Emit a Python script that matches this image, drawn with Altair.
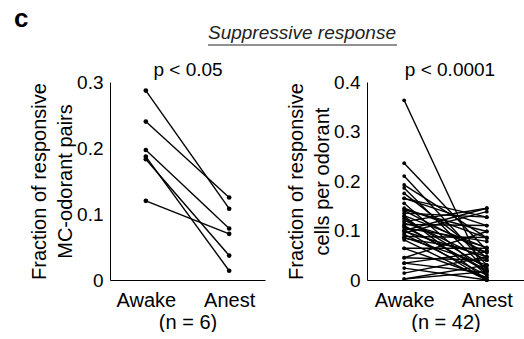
import altair as alt
import pandas as pd

CONDITIONS = ["Awake", "Anest"]

# Left panel: fraction of responsive MC-odorant pairs (n = 6)
left_awake = [0.287, 0.240, 0.197, 0.187, 0.183, 0.120]
left_anest = [0.108, 0.125, 0.078, 0.014, 0.037, 0.070]

# Right panel: fraction of responsive cells per odorant (n = 42)
right_awake = [0.363, 0.236, 0.210, 0.192, 0.186, 0.175, 0.165, 0.165, 0.155,
               0.142, 0.140, 0.135, 0.129, 0.121, 0.118, 0.115, 0.112, 0.108,
               0.105, 0.101, 0.098, 0.095, 0.092, 0.088, 0.086, 0.084, 0.081,
               0.110, 0.125, 0.130, 0.064, 0.064, 0.045, 0.045, 0.034, 0.034,
               0.024, 0.014, 0.002, 0.002, 0.145, 0.100]
right_anest = [0.005, 0.060, 0.030, 0.085, 0.020, 0.045, 0.127, 0.110, 0.010,
               0.098, 0.055, 0.127, 0.000, 0.040, 0.145, 0.066, 0.110, 0.020,
               0.078, 0.000, 0.047, 0.138, 0.010, 0.086, 0.030, 0.057, 0.000,
               0.017, 0.024, 0.065, 0.064, 0.005, 0.040, 0.098, 0.014, 0.057,
               0.000, 0.047, 0.030, 0.017, 0.085, 0.145]

left_yticks = [0, 0.1, 0.2, 0.3]
right_yticks = [0, 0.1, 0.2, 0.3, 0.4]

FONT = "Liberation Sans"


def to_long(aw, an):
    rows = []
    for i, (a, b) in enumerate(zip(aw, an)):
        rows.append({"pair": i, "cond": "Awake", "value": a})
        rows.append({"pair": i, "cond": "Anest", "value": b})
    return pd.DataFrame(rows)


def panel(df, yticks, ytitle, ptext, ntitle, width, xpad, psize, px, extra=()):
    x = alt.X("cond:N", sort=CONDITIONS,
              scale=alt.Scale(type="point", padding=xpad),
              axis=alt.Axis(title=ntitle, labelAngle=0, ticks=False,
                            labelPadding=10, titlePadding=2,
                            labelFontSize=20, titleFontSize=20,
                            titleFontWeight="normal"))
    y = alt.Y("value:Q",
              scale=alt.Scale(domain=[0, yticks[-1]], nice=False),
              axis=alt.Axis(title=ytitle, values=yticks, ticks=False,
                            labelExpr="datum.value == 0 ? '0' : format(datum.value, '.1f')",
                            labelPadding=7, titlePadding=1, titleLineHeight=26,
                            labelFontSize=19, titleFontSize=20,
                            titleFontWeight="normal"))
    base = alt.Chart(df)
    lines = base.mark_line(color="black", strokeWidth=1.4).encode(
        x=x, y=y, detail="pair:N")
    pts = base.mark_point(filled=True, color="black", size=psize, opacity=1).encode(
        x=x, y=y)
    ptxt = alt.Chart(pd.DataFrame({"t": [ptext]})).mark_text(
        font=FONT, fontSize=19, align="center", baseline="alphabetic",
        color="black").encode(x=alt.value(px), y=alt.value(-6), text="t:N")
    return alt.layer(lines, pts, ptxt, *extra).properties(width=width, height=198)


ann = pd.DataFrame({"label": ["c"], "title": ["Suppressive response"]})
letter = alt.Chart(ann).mark_text(
    font=FONT, fontSize=26, fontWeight="bold", align="left",
    baseline="alphabetic", color="black").encode(
    x=alt.value(-96), y=alt.value(-55), text="label:N")
main_title = alt.Chart(ann).mark_text(
    font=FONT, fontSize=19, fontStyle="italic", align="center",
    baseline="alphabetic", color="#222222").encode(
    x=alt.value(192), y=alt.value(-43), text="title:N")
underline = alt.Chart(ann).mark_rule(color="#222222", strokeWidth=1).encode(
    x=alt.value(98), x2=alt.value(287), y=alt.value(-37))

left = panel(to_long(left_awake, left_anest), left_yticks,
             ["Fraction of responsive", "MC-odorant pairs"],
             "p < 0.05", "(n = 6)", 155, 0.43, 22, 78,
             extra=(letter, main_title, underline))
right = panel(to_long(right_awake, right_anest), right_yticks,
              ["Fraction of responsive", "cells per odorant"],
              "p < 0.0001", "(n = 42)", 157, 0.45, 14, 83)

chart = alt.hconcat(left, right, spacing=102).properties(
    bounds="flush",
    background="white",
    padding={"left": 14, "top": 6, "right": 0, "bottom": 0},
).configure_view(stroke=None).configure_axis(
    grid=False, domainColor="black", domainWidth=1,
    labelColor="black", titleColor="black",
    labelFont=FONT, titleFont=FONT, titleFontWeight="normal",
)

chart.save("out.html", embed_options={"renderer": "svg", "actions": False})
